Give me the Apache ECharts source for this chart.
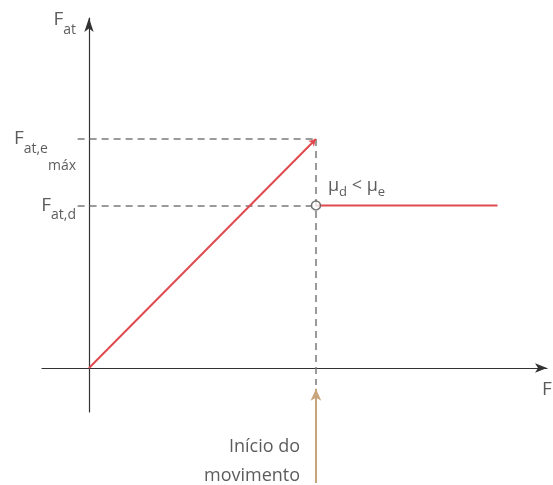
<!DOCTYPE html>
<html>
<head>
<meta charset="utf-8">
<script src="https://cdn.jsdelivr.net/npm/echarts@6/dist/echarts.min.js"></script>
<style>
  html, body { margin: 0; padding: 0; background: #fff; }
  #main { width: 553px; height: 485px; }
</style>
</head>
<body>
<div id="main"></div>
<script>
// force at the start of motion, static max and kinetic friction
var rampX = [0, 10];
var rampY = [0, 10];
var kineticX = [10, 18];
var kineticY = [7.1, 7.1];
var fMax = 10;
var fKin = 7.1;
var fStart = 10;
var yTicks = [7.1, 10];
var yTickNames = ['{F|F}{s|at,d}', '{F|F}{s|at,e}{ss|máx}'];

var ink = '#333333';
var red = '#e04a4f';
var dash = '#7a7a7a';
var tan = '#c9a57c';
var font = 'Open Sans';

var rich = {
    F: { fontSize: 19, color: ink, fontFamily: font },
    s: { fontSize: 14, color: ink, fontFamily: font, padding: [20, 0, 0, 0] },
    ss: { fontSize: 14, color: ink, fontFamily: font, padding: [54, 0, 0, 0] },
    m: { fontSize: 18, color: ink, fontFamily: font },
    ms: { fontSize: 13, color: ink, fontFamily: font, padding: [12, 0, 0, 0] }
};

var myChart = echarts.init(document.getElementById('main'));

var noteLabel = function (text, align) {
    return {
        show: true, position: 'inside', align: align, verticalAlign: 'middle',
        formatter: text, rich: rich, color: ink, fontFamily: font, fontSize: 19
    };
};

// y tick names sit left of the axis line, at their values
var tickNotes = yTicks.map(function (v, i) {
    return { value: [-0.57, v], label: noteLabel(yTickNames[i], 'right') };
});

option = {
    animation: false,
    grid: [
        { left: 42, right: 6, top: 18, bottom: 73, containLabel: false, outerBoundsMode: 'none' },
        { left: 42, right: 6, top: 380, bottom: 0, containLabel: false, outerBoundsMode: 'none' }
    ],
    xAxis: [{
        type: 'value', min: -2.07, max: 20.18, gridIndex: 0,
        axisLine: { onZero: true, symbol: ['none', 'arrow'], symbolSize: [7, 12], lineStyle: { color: '#333', width: 1.2 } },
        axisTick: { show: false }, axisLabel: { show: false }, splitLine: { show: false }
    }, {
        type: 'value', min: -2.07, max: 20.18, gridIndex: 1, show: false
    }],
    yAxis: [{
        type: 'value', min: -1.92, max: 15.28, gridIndex: 0,
        axisLine: { onZero: true, symbol: ['none', 'arrow'], symbolSize: [7, 14], lineStyle: { color: '#333', width: 1.2 } },
        axisTick: { show: false }, axisLabel: { show: false }, splitLine: { show: false }
    }, {
        type: 'value', min: -5.11, max: -0.52, gridIndex: 1, show: false
    }],
    series: [
        {
            name: 'guides', type: 'line', symbol: 'none', clip: false, z: 2,
            data: [],
            markLine: {
                symbol: ['none', 'none'], silent: true, label: { show: false },
                lineStyle: { color: dash, width: 1.5, type: [7, 5] },
                data: [
                    [{ coord: [-0.5, fMax] }, { coord: [fStart, fMax] }],
                    [{ coord: [-0.5, fKin] }, { coord: [fStart, fKin] }],
                    [{ coord: [fStart, fMax] }, { coord: [fStart, -0.74] }]
                ]
            }
        },
        {
            name: 'static', type: 'line', symbol: 'none', clip: false, z: 3,
            data: [],
            markLine: {
                symbol: ['none', 'arrow'], symbolSize: [6, 7], silent: true, label: { show: false },
                lineStyle: { color: red, width: 2, type: 'solid' },
                data: [[{ coord: [rampX[0], rampY[0]] }, { coord: [rampX[1], rampY[1]] }]]
            }
        },
        {
            name: 'kinetic', type: 'line', symbol: 'none', z: 3,
            lineStyle: { color: red, width: 2 },
            data: kineticX.map(function (x, i) { return [x, kineticY[i]]; })
        },
        {
            name: 'start', type: 'line', symbol: 'none', clip: false, z: 3,
            xAxisIndex: 1, yAxisIndex: 1,
            data: [],
            markLine: {
                symbol: ['none', 'arrow'], symbolSize: [8, 12], silent: true, label: { show: false },
                lineStyle: { color: tan, width: 2, type: 'solid' },
                data: [[{ coord: [fStart, -5.02] }, { coord: [fStart, -0.9] }]]
            }
        },
        {
            name: 'jump', type: 'scatter', symbol: 'circle', symbolSize: 9, z: 5,
            itemStyle: { color: '#fff', borderColor: '#555', borderWidth: 1.5 },
            data: [[fStart, fKin]]
        },
        {
            name: 'notes', type: 'scatter', symbolSize: 0, clip: false, z: 6,
            data: tickNotes.concat([
                { value: [-0.57, 15.2], label: noteLabel('{F|F}{s|at}', 'right') },
                { value: [20.18, -0.96], label: noteLabel('{F|F}', 'center') },
                { value: [10.53, 7.95], label: noteLabel('{m|μ}{ms|d}{m| < μ}{ms|e}', 'left') },
                { value: [9.3, -4.08], label: {
                    show: true, position: 'inside', align: 'right', verticalAlign: 'middle',
                    formatter: 'Início do\nmovimento', color: ink, fontFamily: font, fontSize: 18, lineHeight: 29
                } }
            ])
        }
    ]
};
myChart.setOption(option);
</script>
</body>
</html>
